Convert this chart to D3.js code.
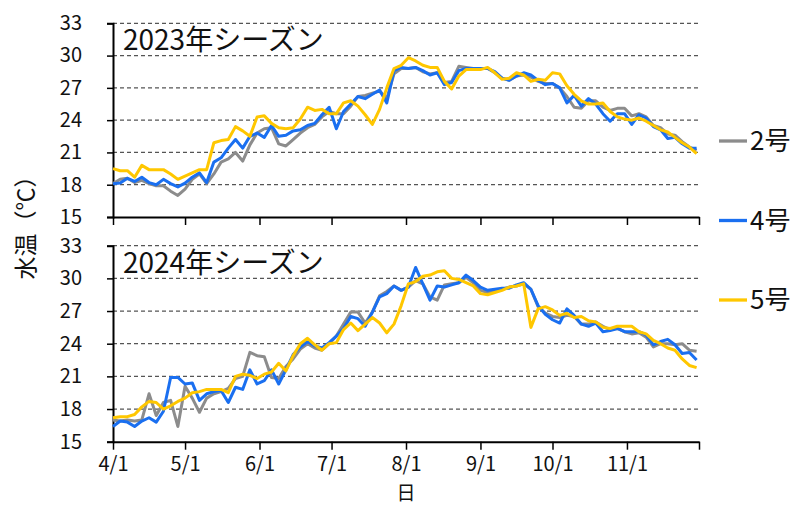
<!DOCTYPE html>
<html>
<head>
<meta charset="utf-8">
<script src="https://cdn.jsdelivr.net/npm/d3@7"></script>
<style>
  body { margin: 0; background: #fff; }
  svg { display: block; }
  text { font-family: "Noto Sans CJK JP", "Noto Sans", sans-serif; fill: #111; }
</style>
</head>
<body>
<svg id="chart" width="795" height="506"></svg>
<script>
// Daily water temperature at three stations, sampled every 3 days from 4/1
const seasonTitles = ["2023年シーズン", "2024年シーズン"];
const seasonYears = [2023, 2024];
const stationNames = ["2号", "4号", "5号"];
const stationColors = ["#8c8c8c", "#1a6ff0", "#ffc700"];
const sampleStepDays = 3;
const yTickValues = [15, 18, 21, 24, 27, 30, 33];
const xTickLabels = ["4/1", "5/1", "6/1", "7/1", "8/1", "9/1", "10/1", "11/1", ""];

const temp2023_no2 = [18.1,18.5,18.6,18.2,18.4,18.1,17.9,17.9,17.4,17.0,17.6,18.5,19.0,18.1,19.0,20.1,20.4,21.0,20.2,21.7,
  22.8,23.2,23.3,21.8,21.6,22.2,22.8,23.3,23.6,24.3,24.8,24.6,24.6,25.3,26.2,26.3,26.5,26.7,26.0,28.3,
  28.8,28.8,28.9,28.5,28.3,28.4,27.5,27.6,29.0,28.9,28.8,28.8,28.8,28.4,27.9,27.7,28.1,28.2,28.0,27.6,
  27.4,27.4,27.0,26.2,25.2,25.1,25.8,25.8,25.2,24.9,25.1,25.1,24.4,24.6,24.3,23.5,23.3,22.7,22.6,22.0,
  21.5,21.2];
const temp2023_no4 = [18.1,18.15,18.6,18.3,18.7,18.2,18.0,18.5,18.1,17.8,18.15,18.7,19.1,18.2,20.1,20.5,21.4,22.2,21.4,22.5,
  22.8,22.4,23.5,22.5,22.6,23.0,23.1,23.5,23.7,24.5,25.2,23.2,24.8,25.5,26.2,26.0,26.4,26.8,25.6,28.6,
  28.9,28.8,28.9,28.6,28.2,28.4,27.3,27.5,28.6,28.8,28.8,28.8,28.8,28.5,27.9,27.7,28.1,28.4,28.2,27.7,
  27.3,27.4,27.0,25.6,26.3,25.3,26.0,25.5,24.6,23.9,24.6,24.6,23.6,24.5,24.2,23.4,23.1,22.3,22.4,21.8,
  21.4,21.4];
const temp2023_no5 = [19.5,19.3,19.3,18.7,19.8,19.4,19.4,19.4,19.0,18.5,18.8,19.1,19.4,19.4,21.9,22.1,22.2,23.4,23.0,22.5,
  24.3,24.4,23.7,23.3,23.2,23.3,24.1,25.2,24.9,25.0,24.6,24.6,25.6,25.8,25.3,24.5,23.6,25.0,27.0,28.8,
  29.1,29.8,29.5,29.1,28.9,28.9,27.6,26.9,28.1,28.7,28.7,28.7,28.9,28.4,27.8,27.9,28.4,28.2,27.6,27.8,
  27.7,28.4,28.3,27.2,26.4,25.8,25.5,25.5,25.6,24.8,24.3,24.1,24.0,24.2,23.9,23.5,23.1,22.9,22.4,21.9,
  21.5,20.9];

const temp2024_no2 = [17.0,16.9,17.0,16.9,17.0,19.4,17.4,18.6,18.8,16.4,20.1,19.0,17.7,19.0,19.4,19.6,19.9,20.8,21.0,23.2,
  22.9,22.8,20.9,20.8,21.9,22.6,23.5,24.0,23.6,23.4,24.0,24.7,25.8,26.9,26.9,25.9,26.9,28.4,28.8,29.3,
  28.9,29.2,29.8,29.5,28.3,28.0,29.4,29.5,29.6,30.1,29.6,28.9,28.7,28.9,29.0,29.2,29.3,29.5,29.0,27.4,
  26.8,26.5,26.4,26.6,26.5,25.8,25.8,26.0,25.6,25.3,25.4,25.1,24.9,25.0,24.6,23.7,24.0,24.0,23.9,24.0,
  23.4,23.3];
const temp2024_no4 = [16.4,16.9,16.8,16.4,16.9,17.2,16.8,17.8,20.9,20.9,20.3,20.4,18.8,19.4,19.6,19.7,18.6,20.0,19.8,21.6,
  20.3,20.6,21.6,20.3,21.6,23.0,23.7,24.2,23.8,23.6,24.1,24.7,25.4,26.5,26.3,25.6,26.9,28.3,28.6,29.3,
  28.9,29.2,31.0,29.5,28.0,29.3,29.2,29.4,29.6,30.3,29.8,29.2,28.9,29.0,29.1,29.1,29.4,29.6,29.0,27.5,
  26.7,26.2,25.9,27.2,26.6,25.8,25.6,25.9,25.1,25.2,25.4,25.1,25.1,25.1,24.8,23.9,24.2,24.4,23.9,23.1,
  23.2,22.5];
const temp2024_no5 = [17.2,17.3,17.3,17.5,18.2,18.7,18.6,18.0,18.3,18.7,19.0,19.5,19.6,19.8,19.8,19.8,19.5,21.0,21.2,21.1,
  20.8,21.2,21.4,22.2,21.5,22.9,24.0,24.5,23.9,23.4,24.0,24.1,25.3,25.9,25.2,25.8,26.4,25.9,25.0,25.8,
  27.5,29.5,29.7,30.2,30.3,30.6,30.7,30.0,29.9,29.6,29.3,28.6,28.5,28.7,28.9,29.2,29.3,29.5,25.5,27.2,
  27.4,27.1,26.6,26.8,26.4,26.5,26.1,26.0,25.5,25.4,25.6,25.6,25.6,25.1,24.9,24.3,24.0,23.6,23.4,22.6,
  22.0,21.8];

const seasonSeries = [
  [temp2023_no2, temp2023_no4, temp2023_no5],
  [temp2024_no2, temp2024_no4, temp2024_no5]
];

const svg = d3.select("#chart");
const plotLeft = 113, plotRight = 699;
const panels = [{ top: 23.3, bottom: 217 }, { top: 245.7, bottom: 441.7 }];

seasonYears.forEach((year, p) => {
  const box = panels[p];
  const x = d3.scaleTime()
    .domain([new Date(year, 3, 1), new Date(year, 11, 1)])
    .range([plotLeft, plotRight]);
  const y = d3.scaleLinear().domain([15, 33]).range([box.bottom, box.top]);
  const g = svg.append("g");

  // dashed horizontal gridlines
  g.append("g").selectAll("line")
    .data(yTickValues.filter(v => v > 15))
    .join("line")
    .attr("x1", plotLeft).attr("x2", plotRight)
    .attr("y1", d => y(d)).attr("y2", d => y(d))
    .attr("stroke", "#555").attr("stroke-width", 1.3)
    .attr("stroke-dasharray", "4,3");

  // y axis
  const yAxis = g.append("g")
    .attr("transform", `translate(${plotLeft},0)`)
    .call(d3.axisLeft(y).tickValues(yTickValues).tickSize(6).tickPadding(25).tickFormat(d3.format("d")));
  yAxis.select(".domain").attr("stroke", "#000").attr("stroke-width", 2);
  yAxis.selectAll(".tick line").attr("stroke", "#000").attr("stroke-width", 1.5);
  yAxis.selectAll("text").attr("font-size", 20).attr("fill", "#111")
    .style("font-family", '"Noto Sans CJK JP", sans-serif');

  // x axis: monthly ticks
  const monthTicks = d3.timeMonth.range(new Date(year, 3, 1), new Date(year, 11, 2));
  const xAxis = g.append("g")
    .attr("transform", `translate(0,${box.bottom})`)
    .call(d3.axisBottom(x).tickValues(monthTicks).tickSize(8).tickSizeOuter(0).tickPadding(7)
      .tickFormat((d, i) => p === 1 ? xTickLabels[i] : ""));
  xAxis.select(".domain").attr("stroke", "#000").attr("stroke-width", 2);
  xAxis.selectAll(".tick line").attr("stroke", "#000").attr("stroke-width", 1.5);
  xAxis.selectAll("text").attr("font-size", 20).attr("fill", "#111")
    .style("font-family", '"Noto Sans CJK JP", sans-serif');

  // station lines
  const line = d3.line()
    .x((d, i) => x(d3.timeDay.offset(new Date(year, 3, 1), i * sampleStepDays)))
    .y(d => y(d));
  seasonSeries[p].forEach((vals, s) => {
    g.append("path")
      .datum(vals)
      .attr("d", line)
      .attr("fill", "none")
      .attr("stroke", stationColors[s])
      .attr("stroke-width", 3)
      .attr("stroke-linejoin", "round");
  });

  // season title
  g.append("text")
    .attr("x", 123).attr("y", box.top + 27)
    .attr("font-size", 28)
    .text(seasonTitles[p]);
});

// legend
const legendY = [141, 220.5, 300];
stationNames.forEach((name, s) => {
  const lg = svg.append("g").attr("transform", `translate(0,${legendY[s]})`);
  lg.append("line").attr("x1", 719).attr("x2", 747).attr("y1", 0).attr("y2", 0)
    .attr("stroke", stationColors[s]).attr("stroke-width", 3.3);
  lg.append("text").attr("x", 750).attr("y", 0).attr("dy", "0.36em")
    .attr("font-size", 26).text(name);
});

// axis titles
svg.append("text")
  .attr("transform", "translate(26,222) rotate(-90)")
  .attr("text-anchor", "middle").attr("dy", "0.35em")
  .attr("font-size", 23)
  .text("水温（℃）");
svg.append("text")
  .attr("x", 406).attr("y", 500)
  .attr("text-anchor", "middle")
  .attr("font-size", 19)
  .text("日");
</script>
</body>
</html>
